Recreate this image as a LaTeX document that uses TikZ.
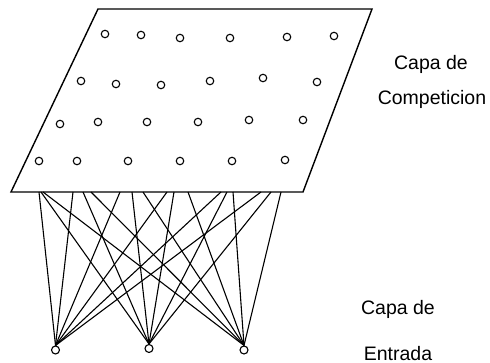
\documentclass[tikz,border=0pt]{standalone}
\usepackage{fontspec}
\setmainfont{Liberation Sans}
\begin{document}
\begin{tikzpicture}[x=1pt,y=-1pt,
  unit/.style={circle,draw,line width=1.1pt,minimum size=7.5pt,inner sep=0pt},
  inunit/.style={circle,draw,line width=1.1pt,minimum size=8pt,inner sep=0pt},
  link/.style={line width=1.1pt},
  layer/.style={line width=1.4pt,line join=miter},
  lbl/.style={font=\fontsize{19.5}{19.5}\selectfont,anchor=base,inner sep=0pt}]
\useasboundingbox (0,0) rectangle (490,363);
% competition layer (parallelogram)
\coordinate (p1) at (98,9);
\coordinate (p2) at (372,9);
\coordinate (p3) at (303,192);
\coordinate (p4) at (11,192);
\draw[layer] (p1) -- (p2) -- (p3) -- (p4) -- cycle;
% competition units
\foreach \x/\y [count=\i] in {105/34, 141/35, 180/38, 230/38, 287/37, 334/36,
  81/81, 116/84, 161/85, 210/81, 263/78, 317/82,
  60/124, 98/122, 147/122, 198/122, 249/120, 303/120,
  39/161, 77/161, 128/161, 180/161, 232/161, 285/160}
  \node[unit] (c\i) at (\x,\y) {};
% input units
\node[inunit] (i1) at (55.5,350) {};
\node[inunit] (i2) at (149,348.5) {};
\node[inunit] (i3) at (244,350) {};
% connections from the layer edge to the inputs
\foreach \a/\b/\c [count=\k] in {39/41/43, 73/83/91, 120/132/143, 167/174/188, 221/227/233, 261/271/281} {
  \coordinate (tA\k) at (\a,192);
  \coordinate (tB\k) at (\b,192);
  \coordinate (tC\k) at (\c,192);
  \draw[link] (tA\k) -- (i1.north);
  \draw[link] (tB\k) -- (i2.north);
  \draw[link] (tC\k) -- (i3.north);
}
% labels
\node[lbl] (l1) at (431,70) {Capa de};
\node[lbl] (l2) at (432,105) {Competicion};
\node[lbl] (l3) at (398,315) {Capa de};
\node[lbl] (l4) at (398,360) {Entrada};
\end{tikzpicture}
\end{document}
